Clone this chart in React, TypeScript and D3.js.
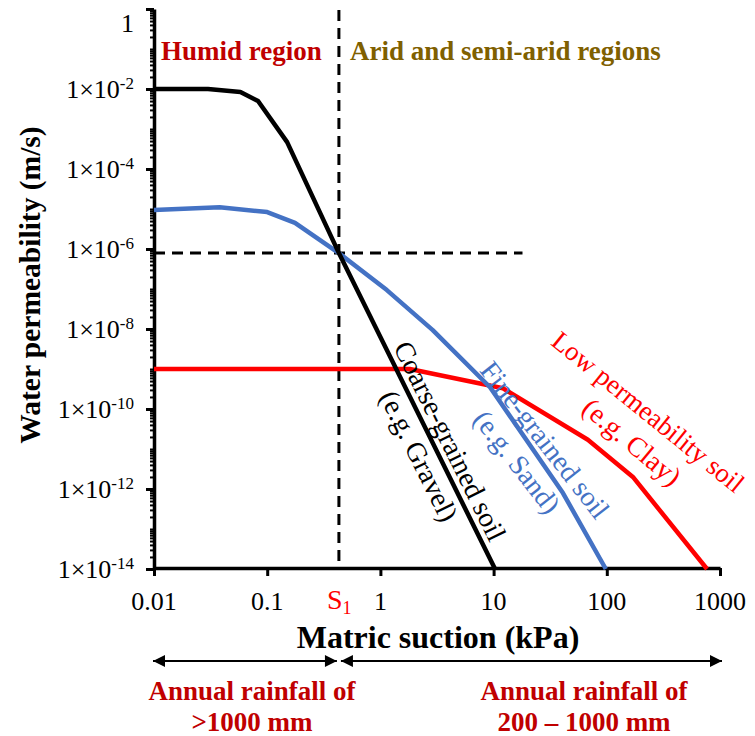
import React, { useEffect, useRef } from 'react';
import * as d3 from 'd3';

// matric suction (kPa) vs water permeability (m/s)
const coarseX = [0.01, 0.03, 0.058, 0.083, 0.15, 0.43, 10.3];
const coarseY = [1e-2, 1e-2, 8.4e-3, 5e-3, 4.7e-4, 7.9e-7, 1e-14];
const fineX = [0.01, 0.038, 0.1, 0.176, 0.43, 1.14, 2.9, 9.3, 41, 98];
const fineY = [9.4e-6, 1.1e-5, 8.4e-6, 4.5e-6, 7.9e-7, 9.4e-8, 9.4e-9, 3.5e-10, 7.9e-13, 1e-14];
const clayX = [0.01, 1.82, 12.1, 68, 170, 768];
const clayY = [1e-9, 1e-9, 3.3e-10, 1.7e-11, 2e-12, 1e-14];

const xTicks = [0.01, 0.1, 1, 10, 100, 1000];
const xTickLabels = ['0.01', '0.1', '1', '10', '100', '1000'];
const yTicks = [1, 1e-2, 1e-4, 1e-6, 1e-8, 1e-10, 1e-12, 1e-14];
const yTickExps = ['', '-2', '-4', '-6', '-8', '-10', '-12', '-14'];

const s1 = 0.43;
const s1Perm = 7.9e-7;
const dashEnd = 18;

const width = 755;
const height = 736;
const serif = '"Liberation Serif", "Times New Roman", serif';

export default function App() {
  const ref = useRef<SVGSVGElement>(null);

  useEffect(() => {
    const svg = d3.select(ref.current);
    svg.selectAll('*').remove();

    const x = d3.scaleLog().domain([0.01, 1000]).range([154, 720]);
    const y = d3.scaleLog().domain([1e-14, 1]).range([569, 9]);

    // minor ticks on y
    const minor: number[] = [];
    for (let e = -14; e < 0; e++) {
      for (let k = 2; k <= 9; k++) minor.push(k * Math.pow(10, e));
    }
    minor.push(...d3.range(-13, 0, 2).map((e) => Math.pow(10, e)));

    const g = svg.append('g').attr('font-family', serif);

    g.append('g')
      .attr('transform', 'translate(154,0)')
      .call(d3.axisLeft(y).tickValues(minor).tickSize(4).tickSizeOuter(0).tickFormat(() => ''))
      .call((a) => a.select('.domain').remove())
      .selectAll('line')
      .attr('stroke-width', 2);

    g.append('g')
      .attr('transform', 'translate(154,0)')
      .call(d3.axisLeft(y).tickValues(yTicks).tickSize(8).tickSizeOuter(0).tickFormat(() => ''))
      .call((a) => a.select('.domain').attr('stroke-width', 3.5))
      .selectAll('line')
      .attr('stroke-width', 3);

    g.append('g')
      .attr('transform', 'translate(0,568)')
      .call(d3.axisBottom(x).tickValues(xTicks).tickSize(8).tickSizeOuter(0).tickFormat(() => ''))
      .call((a) => a.select('.domain').attr('stroke-width', 3.5))
      .selectAll('line')
      .attr('stroke-width', 3);

    // y tick labels
    yTicks.forEach((v, i) => {
      const t = g
        .append('text')
        .attr('x', 134)
        .attr('y', i === 0 ? 32 : y(v) + 9)
        .attr('text-anchor', 'end')
        .attr('font-size', 26);
      if (i === 0) {
        t.text('1');
      } else {
        t.append('tspan').text('1×10');
        t.append('tspan').attr('font-size', 17).attr('dy', -9).text(yTickExps[i]);
      }
    });

    xTicks.forEach((v, i) => {
      g.append('text')
        .attr('x', x(v))
        .attr('y', 610)
        .attr('text-anchor', 'middle')
        .attr('font-size', 26)
        .text(xTickLabels[i]);
    });

    const s1Label = g
      .append('text')
      .attr('x', 327)
      .attr('y', 609)
      .attr('fill', '#ff0000')
      .attr('font-size', 28);
    s1Label.append('tspan').text('S');
    s1Label.append('tspan').attr('font-size', 18).attr('dy', 5).text('1');

    // dashed guides
    g.append('line')
      .attr('x1', x(s1))
      .attr('x2', x(s1))
      .attr('y1', 10)
      .attr('y2', 568)
      .attr('stroke', '#000')
      .attr('stroke-width', 3)
      .attr('stroke-dasharray', '11,7');
    g.append('line')
      .attr('x1', 154)
      .attr('x2', x(dashEnd))
      .attr('y1', y(s1Perm))
      .attr('y2', y(s1Perm))
      .attr('stroke', '#000')
      .attr('stroke-width', 3)
      .attr('stroke-dasharray', '11,7');

    const line = d3
      .line<[number, number]>()
      .x((d) => x(d[0]))
      .y((d) => y(d[1]));

    const series = [
      { xs: clayX, ys: clayY, color: '#ff0000' },
      { xs: fineX, ys: fineY, color: '#4472c4' },
      { xs: coarseX, ys: coarseY, color: '#000000' },
    ];
    series.forEach((s) => {
      g.append('path')
        .attr('d', line(s.xs.map((v, i) => [v, s.ys[i]] as [number, number])))
        .attr('fill', 'none')
        .attr('stroke', s.color)
        .attr('stroke-width', 4.5)
        .attr('stroke-linejoin', 'round');
    });

    // region labels
    g.append('text')
      .attr('x', 161)
      .attr('y', 60)
      .attr('font-size', 27)
      .attr('font-weight', 'bold')
      .attr('fill', '#c00000')
      .text('Humid region');
    g.append('text')
      .attr('x', 350)
      .attr('y', 60)
      .attr('font-size', 27)
      .attr('font-weight', 'bold')
      .attr('fill', '#7f6000')
      .text('Arid and semi-arid regions');

    // rotated curve labels
    const labels = [
      { t: 'Coarse-grained soil', cx: 450, cy: 441, a: 63.7, c: '#000000', s: 28 },
      { t: '(e.g. Gravel)', cx: 419, cy: 456, a: 63.7, c: '#000000', s: 28 },
      { t: 'Fine-grained soil', cx: 545, cy: 440, a: 52, c: '#4472c4', s: 28 },
      { t: '(e.g. Sand)', cx: 517, cy: 462, a: 52, c: '#4472c4', s: 28 },
      { t: 'Low permeability soil', cx: 648, cy: 412, a: 39, c: '#ff0000', s: 27 },
      { t: '(e.g. Clay)', cx: 632, cy: 442, a: 40, c: '#ff0000', s: 28 },
    ];
    labels.forEach((l) => {
      g.append('text')
        .attr('transform', `translate(${l.cx},${l.cy}) rotate(${l.a})`)
        .attr('text-anchor', 'middle')
        .attr('dominant-baseline', 'central')
        .attr('font-size', l.s)
        .attr('fill', l.c)
        .text(l.t);
    });

    // axis titles
    g.append('text')
      .attr('x', 438)
      .attr('y', 648)
      .attr('text-anchor', 'middle')
      .attr('font-size', 32)
      .attr('font-weight', 'bold')
      .text('Matric suction (kPa)');
    g.append('text')
      .attr('transform', 'translate(40,285) rotate(-90)')
      .attr('text-anchor', 'middle')
      .attr('font-size', 29.5)
      .attr('font-weight', 'bold')
      .text('Water permeability (m/s)');

    // rainfall arrows
    const defs = svg.append('defs');
    defs
      .append('marker')
      .attr('id', 'ah')
      .attr('viewBox', '0 0 10 10')
      .attr('refX', 10)
      .attr('refY', 5)
      .attr('markerUnits', 'userSpaceOnUse')
      .attr('markerWidth', 14)
      .attr('markerHeight', 12)
      .attr('orient', 'auto-start-reverse')
      .append('path')
      .attr('d', 'M0,0L10,5L0,10z')
      .attr('fill', '#000');
    [
      [x(0.01) - 1, x(s1) - 2],
      [x(s1) + 2, x(1000) + 2],
    ].forEach(([a, b]) => {
      g.append('line')
        .attr('x1', a)
        .attr('x2', b)
        .attr('y1', 661)
        .attr('y2', 661)
        .attr('stroke', '#000')
        .attr('stroke-width', 2)
        .attr('marker-start', 'url(#ah)')
        .attr('marker-end', 'url(#ah)');
    });

    const rain = [
      { cx: 252, l1: 'Annual rainfall of', l2: '>1000 mm' },
      { cx: 584, l1: 'Annual rainfall of', l2: '200 – 1000 mm' },
    ];
    rain.forEach((r) => {
      g.append('text')
        .attr('x', r.cx)
        .attr('y', 700)
        .attr('text-anchor', 'middle')
        .attr('font-size', 27)
        .attr('font-weight', 'bold')
        .attr('fill', '#c00000')
        .text(r.l1);
      g.append('text')
        .attr('x', r.cx)
        .attr('y', 731)
        .attr('text-anchor', 'middle')
        .attr('font-size', 27)
        .attr('font-weight', 'bold')
        .attr('fill', '#c00000')
        .text(r.l2);
    });
  }, []);

  return (
    <svg
      ref={ref}
      width={width}
      height={height}
      style={{ position: 'absolute', left: 0, top: 0, background: '#fff' }}
    />
  );
}
